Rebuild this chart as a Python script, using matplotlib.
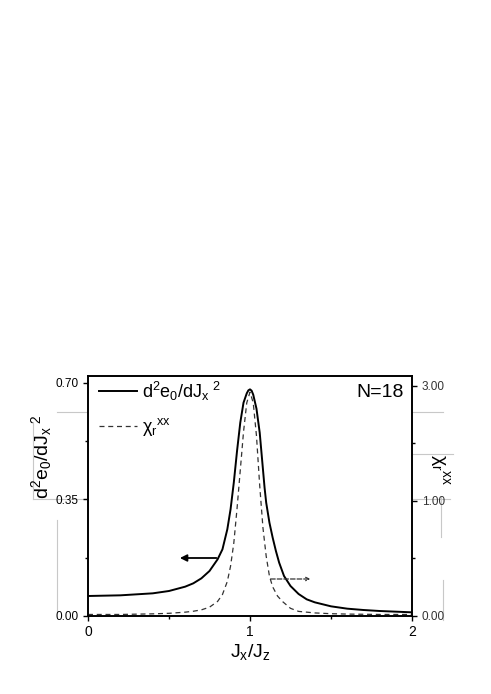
import matplotlib
matplotlib.use('Agg')
import matplotlib.pyplot as plt
from matplotlib.lines import Line2D
from matplotlib.ticker import FixedLocator, FixedFormatter

plt.rcParams['font.family'] = ['Liberation Sans', 'DejaVu Sans']
plt.rcParams['mathtext.fontset'] = 'custom'
plt.rcParams['mathtext.rm'] = 'Liberation Sans'
plt.rcParams['mathtext.it'] = 'Liberation Sans'

# solid curve: d2e0/dJx2 (left axis)
jx_e = [0.0, 0.2, 0.4, 0.5, 0.6, 0.65, 0.7, 0.75, 0.8, 0.83, 0.86, 0.88, 0.9,
        0.92, 0.94, 0.96, 0.98, 0.99, 1.0, 1.01, 1.02, 1.04, 1.06, 1.08, 1.09, 1.1,
        1.12, 1.14, 1.16, 1.18, 1.21, 1.25, 1.3, 1.35, 1.4, 1.5, 1.6, 1.7, 1.8,
        1.9, 2.0]
d2e = [0.060, 0.062, 0.068, 0.075, 0.088, 0.098, 0.113, 0.135, 0.170, 0.200,
       0.260, 0.320, 0.400, 0.495, 0.580, 0.640, 0.668, 0.677, 0.680, 0.676,
       0.664, 0.622, 0.550, 0.440, 0.385, 0.340, 0.280, 0.235, 0.195, 0.160,
       0.120, 0.090, 0.066, 0.050, 0.041, 0.029, 0.022, 0.018, 0.015, 0.013,
       0.011]

# dashed curve: chi_r^xx (right axis)
jx_c = [0.0, 0.2, 0.4, 0.5, 0.6, 0.65, 0.7, 0.75, 0.8, 0.83, 0.86, 0.88, 0.9,
        0.92, 0.94, 0.96, 0.98, 1.0, 1.02, 1.04, 1.06, 1.08, 1.1, 1.12, 1.14,
        1.17, 1.2, 1.25, 1.3, 1.4, 1.5, 1.6, 1.8, 2.0]
chi = [0.02, 0.02, 0.028, 0.035, 0.05, 0.062, 0.08, 0.115, 0.19, 0.28, 0.45,
       0.65, 0.95, 1.40, 1.90, 2.40, 2.78, 2.92, 2.78, 2.35, 1.70, 1.15, 0.78,
       0.52, 0.38, 0.26, 0.19, 0.10, 0.06, 0.04, 0.03, 0.025, 0.02, 0.02]

left_ticks = [0.0, 0.35, 0.70]
left_labels = ['0.00', '0.35', '0.70']
right_ticks = [0.0, 1.5, 3.0]
right_labels = ['0.00', '1.00', '3.00']

lab_e = r'$\mathregular{d^2e_0/dJ_x{}^{\ 2}}$'
lab_c = r'$\mathregular{\chi_r{}^{xx}}$'

fig = plt.figure(figsize=(4.91, 6.94), dpi=100)
ax = fig.add_axes([0.1792, 0.1124, 0.6599, 0.3458])
ax2 = ax.twinx()

l1, = ax.plot(jx_e, d2e, color='black', lw=1.4)
l2, = ax2.plot(jx_c, chi, color='#333333', lw=0.9, ls=(0, (4, 3)))

ax.set_xlim(0, 2)
ax.set_ylim(0, 0.72)
ax2.set_ylim(0, 3.13)

ax.xaxis.set_major_locator(FixedLocator([0, 1, 2]))
ax.xaxis.set_minor_locator(FixedLocator([0.5, 1.5]))
ax.yaxis.set_major_locator(FixedLocator(left_ticks))
ax.yaxis.set_major_formatter(FixedFormatter(left_labels))
ax.yaxis.set_minor_locator(FixedLocator([0.175, 0.525]))
ax2.yaxis.set_major_locator(FixedLocator(right_ticks))
ax2.yaxis.set_major_formatter(FixedFormatter(right_labels))
ax2.yaxis.set_minor_locator(FixedLocator([0.75, 2.25]))

for a in (ax, ax2):
    a.tick_params(which='major', direction='out', length=3.5, width=1, labelsize=8.5)
    a.tick_params(which='minor', direction='out', length=2.5, width=1)
    for s in a.spines.values():
        s.set_linewidth(1.2)
ax.tick_params(axis='x', labelsize=10, pad=3)
ax2.tick_params(axis='y', labelcolor='#333333')

ax.set_xlabel(r'$\mathregular{J_x/J_z}$', fontsize=14, labelpad=2)
ax.text(-0.142, 0.665, lab_e, transform=ax.transAxes, rotation=90,
        ha='center', va='center', fontsize=14)
ax.text(1.086, 0.61, lab_c, transform=ax.transAxes, rotation=270,
        ha='center', va='center', fontsize=14)

ax.text(0.975, 0.965, 'N=18', transform=ax.transAxes, ha='right', va='top', fontsize=14)

ax.legend([l1, l2], [lab_e, lab_c], loc='upper left', bbox_to_anchor=(0.0, 1.03),
          frameon=False, fontsize=13, handlelength=2.1, labelspacing=0.75,
          borderaxespad=0.2, handletextpad=0.3)

# arrows pointing to the axis each curve belongs to
ax.annotate('', xy=(0.55, 0.174), xytext=(0.81, 0.174),
            arrowprops=dict(arrowstyle='-|>', color='black', lw=1.3, mutation_scale=10))
ax.annotate('', xy=(1.39, 0.111), xytext=(1.11, 0.111),
            arrowprops=dict(arrowstyle='->', color='#333333', lw=0.9, ls='--',
                            mutation_scale=6))

# faint grey rules left over in the source image
W, H = 491, 694
for x0, x1, y in [(57, 443, 412), (33, 450, 499), (88, 412, 579), (413, 453, 454)]:
    fig.add_artist(Line2D([x0 / W, x1 / W], [1 - y / H, 1 - y / H],
                          color='#c8c8c8', lw=0.8, zorder=0))
for x, y0, y1 in [(33, 422, 499), (57, 520, 612), (441, 497, 537), (443, 580, 620)]:
    fig.add_artist(Line2D([x / W, x / W], [1 - y0 / H, 1 - y1 / H],
                          color='#c8c8c8', lw=0.8, zorder=0))

fig.savefig('out.png', dpi=100)
